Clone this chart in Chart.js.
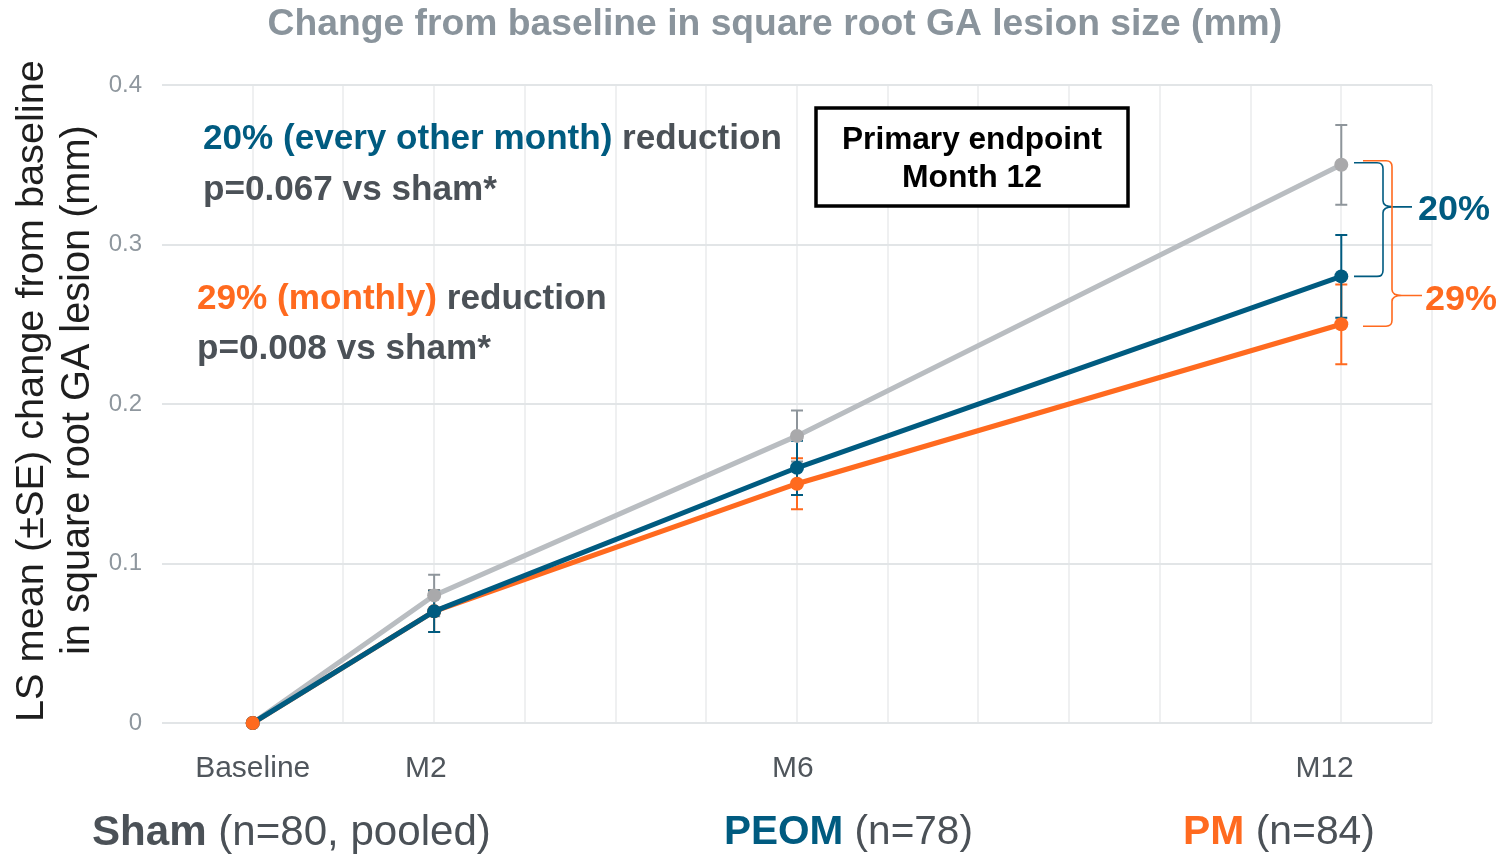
<!DOCTYPE html>
<html><head><meta charset="utf-8">
<script src="https://cdn.jsdelivr.net/npm/chart.js@4"></script>
<style>html,body{margin:0;padding:0;background:#fff}#wrap{width:1504px;height:854px;position:relative}</style>
</head><body><div id="wrap"><canvas id="c" width="1504" height="854"></canvas></div>
<script>
// ---- data ----
const months = [0, 2, 6, 12];
const tickLabels = {0: 'Baseline', 2: 'M2  ', 6: 'M6 ', 12: 'M12    '};
const shamMean = [0, 0.08, 0.18, 0.35];
const shamSE   = [0, 0.013, 0.016, 0.025];
const peomMean = [0, 0.07, 0.16, 0.28];
const peomSE   = [0, 0.013, 0.017, 0.026];
const pmMean   = [0, 0.07, 0.15, 0.25];
const pmSE     = [0, 0.013, 0.016, 0.025];
const yTicks = [0, 0.1, 0.2, 0.3, 0.4];
const title = 'Change from baseline in square root GA lesion size (mm)';
const yTitle = ['LS mean (\u00B1SE) change from baseline', 'in square root GA lesion (mm)'];

const FAM = '"Liberation Sans", Arial, sans-serif';
const C_SHAM = '#b9bdc1', C_SHAM_PT = '#a9a9ab', C_SHAM_ERR = '#8e959b';
const C_PEOM = '#005b80', C_PM = '#ff6a1f', C_GRAY = '#4b5157';

const pts = arr => months.map((m, i) => ({x: m, y: arr[i]}));

function fitSize(ctx, segs, target) {
  let tot = 0;
  segs.forEach(s => { ctx.font = `${s.w} 100px ${FAM}`; tot += ctx.measureText(s.t).width; });
  return 100 * target / tot;
}
function drawSegs(ctx, segs, x, y, target) {
  const size = fitSize(ctx, segs, target);
  ctx.textBaseline = 'middle'; ctx.textAlign = 'left';
  let cx = x;
  segs.forEach(s => {
    ctx.font = `${s.w} ${size}px ${FAM}`; ctx.fillStyle = s.c;
    ctx.fillText(s.t, cx, y + 2);
    cx += ctx.measureText(s.t).width;
  });
}
function drawCentered(ctx, segs, cx, y, target) {
  drawSegs(ctx, segs, cx - target / 2, y, target);
}

const errorBars = {
  id: 'errorBars',
  beforeDatasetsDraw(chart) {
    const {ctx, scales: {x, y}} = chart;
    const sets = [[pmMean, pmSE, C_PM], [shamMean, shamSE, C_SHAM_ERR], [peomMean, peomSE, C_PEOM]];
    ctx.save();
    ctx.lineWidth = 2;
    sets.forEach(([m, se, col]) => {
      ctx.strokeStyle = col;
      months.forEach((mo, i) => {
        if (!se[i]) return;
        const px = x.getPixelForValue(mo);
        const yt = y.getPixelForValue(m[i] + se[i]);
        const yb = y.getPixelForValue(m[i] - se[i]);
        ctx.beginPath();
        ctx.moveTo(px, yt); ctx.lineTo(px, yb);
        ctx.moveTo(px - 6, yt); ctx.lineTo(px + 6, yt);
        ctx.moveTo(px - 6, yb); ctx.lineTo(px + 6, yb);
        ctx.stroke();
      });
    });
    ctx.restore();
  },
  afterDatasetsDraw(chart) {
    const meta = chart.getDatasetMeta(2);
    if (meta.data[0]) meta.data[0].draw(chart.ctx);
  }
};

function brace(ctx, x0, xv, yTop, yBot, tipY, tipX, lineEnd, col) {
  const r = 6;
  ctx.save();
  ctx.strokeStyle = col; ctx.lineWidth = 1.6;
  ctx.beginPath();
  ctx.moveTo(x0, yTop);
  ctx.lineTo(xv - r, yTop);
  ctx.quadraticCurveTo(xv, yTop, xv, yTop + r);
  ctx.lineTo(xv, tipY - r);
  ctx.quadraticCurveTo(xv, tipY, tipX, tipY);
  ctx.quadraticCurveTo(xv, tipY, xv, tipY + r);
  ctx.lineTo(xv, yBot - r);
  ctx.quadraticCurveTo(xv, yBot, xv - r, yBot);
  ctx.lineTo(x0, yBot);
  ctx.moveTo(tipX, tipY);
  ctx.lineTo(lineEnd, tipY);
  ctx.stroke();
  ctx.restore();
}

const annotations = {
  id: 'annotations',
  afterDraw(chart) {
    const {ctx, scales: {x, y}} = chart;
    ctx.save();
    drawCentered(ctx, [{t: title, w: 'bold', c: '#8a949c'}], 775, 23, 1015);
    ctx.save();
    ctx.translate(32, 391); ctx.rotate(-Math.PI / 2);
    drawCentered(ctx, [{t: yTitle[0], w: 'normal', c: '#1e1e1e'}], 0, -2, 662);
    ctx.restore();
    ctx.save();
    ctx.translate(78, 390); ctx.rotate(-Math.PI / 2);
    drawCentered(ctx, [{t: yTitle[1], w: 'normal', c: '#1e1e1e'}], 0, -2, 530);
    ctx.restore();
    drawSegs(ctx, [{t: '20% (every other month)', w: 'bold', c: C_PEOM}, {t: ' reduction', w: 'bold', c: C_GRAY}], 203, 137, 579);
    drawSegs(ctx, [{t: 'p=0.067 vs sham*', w: 'bold', c: C_GRAY}], 203, 188, 294);
    drawSegs(ctx, [{t: '29% (monthly)', w: 'bold', c: C_PM}, {t: ' reduction', w: 'bold', c: C_GRAY}], 197, 297, 410);
    drawSegs(ctx, [{t: 'p=0.008 vs sham*', w: 'bold', c: C_GRAY}], 197, 347, 294);
    ctx.fillStyle = '#fff';
    ctx.fillRect(816, 108, 312, 98);
    ctx.strokeStyle = '#000'; ctx.lineWidth = 3.5;
    ctx.strokeRect(816, 108, 312, 98);
    drawCentered(ctx, [{t: 'Primary endpoint', w: 'bold', c: '#000'}], 972, 138, 260);
    drawCentered(ctx, [{t: 'Month 12', w: 'bold', c: '#000'}], 972, 176, 140);
    const last = months.length - 1;
    const yS = y.getPixelForValue(shamMean[last]);
    const yP = y.getPixelForValue(peomMean[last]);
    const yM = y.getPixelForValue(pmMean[last]);
    brace(ctx, 1354, 1383, yS - 2, yP, yS + 0.377 * (yP - yS), 1393, 1412, C_PEOM);
    brace(ctx, 1363, 1392, yS - 4, yM + 2, yS + 0.82 * (yM - yS), 1402, 1422, C_PM);
    drawSegs(ctx, [{t: '20%', w: 'bold', c: C_PEOM}], 1418, 208, 72);
    drawSegs(ctx, [{t: '29%', w: 'bold', c: C_PM}], 1425, 298, 72);
    drawSegs(ctx, [{t: 'Sham', w: 'bold', c: C_GRAY}, {t: ' (n=80, pooled)', w: 'normal', c: C_GRAY}], 92, 831, 399);
    drawSegs(ctx, [{t: 'PEOM', w: 'bold', c: C_PEOM}, {t: ' (n=78)', w: 'normal', c: C_GRAY}], 724, 831, 249);
    drawSegs(ctx, [{t: 'PM', w: 'bold', c: C_PM}, {t: ' (n=84)', w: 'normal', c: C_GRAY}], 1183, 831, 192);
    ctx.restore();
  }
};

const lineDs = (label, arr, col, ptCol, order) => ({
  label, data: pts(arr), borderColor: col, backgroundColor: ptCol,
  pointBackgroundColor: ptCol, pointBorderColor: ptCol, pointBorderWidth: 0,
  borderWidth: 5, pointRadius: 7, tension: 0, order, clip: false
});

new Chart(document.getElementById('c'), {
  type: 'line',
  data: {
    datasets: [
      lineDs('Sham', shamMean, C_SHAM, C_SHAM_PT, 1),
      lineDs('PEOM', peomMean, C_PEOM, C_PEOM, 0),
      lineDs('PM', pmMean, C_PM, C_PM, 2)
    ]
  },
  options: {
    responsive: false, animation: false, devicePixelRatio: 1,
    layout: {padding: {top: 85, right: 72, left: 0, bottom: 0}},
    plugins: {legend: {display: false}, tooltip: {enabled: false}, title: {display: false}},
    scales: {
      x: {
        type: 'linear', min: -1, max: 13,
        afterBuildTicks: s => { const t = []; for (let v = -1; v <= 13; v++) t.push({value: v}); s.ticks = t; },
        afterFit: s => { s.height = 131; },
        ticks: {
          autoSkip: false, maxRotation: 0, padding: 28,
          color: '#50565c', font: {family: FAM, size: 30},
          callback: v => tickLabels[v] !== undefined ? tickLabels[v] : ''
        },
        grid: {
          drawTicks: false, lineWidth: 2,
          color: c => (c.tick && c.tick.value === -1) ? 'rgba(0,0,0,0)' : '#eff0f1'
        },
        border: {display: false}
      },
      y: {
        min: 0, max: 0.4,
        afterBuildTicks: s => { s.ticks = yTicks.map(v => ({value: v})); },
        afterFit: s => { s.width = 162; },
        ticks: {padding: 20, color: '#8f979e', font: {family: FAM, size: 24}},
        grid: {drawTicks: false, lineWidth: 2, color: '#e2e5e7'},
        border: {display: false}
      }
    }
  },
  plugins: [errorBars, annotations]
});
</script></body></html>
